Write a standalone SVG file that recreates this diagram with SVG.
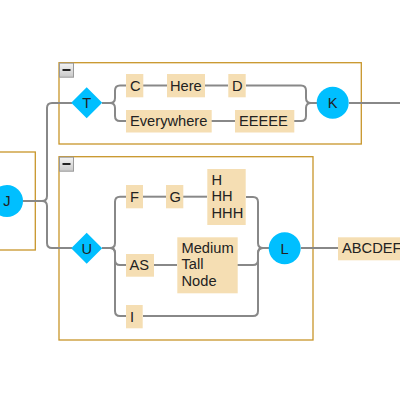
<svg xmlns="http://www.w3.org/2000/svg" width="400" height="400" viewBox="0 0 400 400">
<defs>
<linearGradient id="btn" x1="0" y1="0" x2="0" y2="1">
<stop offset="0" stop-color="#f4f4f4"/>
<stop offset="1" stop-color="#c8c8c8"/>
</linearGradient>
</defs>
<style>
.grp{fill:none;stroke:#c8962a;stroke-width:1.3}
.btn{fill:url(#btn);stroke:#9a9a9a;stroke-width:1}
.minus{stroke:#222;stroke-width:2}
.box{fill:#f5deb3}
.shape{fill:#00bfff}
.edge{fill:none;stroke:#888;stroke-width:2}
text{font-family:"Liberation Sans",Arial,sans-serif;font-size:14.67px;fill:#222}
.c{text-anchor:middle}
</style>
<rect width="400" height="400" fill="#fff"/>
<g id="groups">
<rect class="grp" x="-10" y="152" width="45.3" height="98"/>
<rect class="grp" x="59" y="62.7" width="302.3" height="81.3"/>
<rect class="grp" x="59" y="156.7" width="254" height="183.3"/>
<rect class="btn" x="59.5" y="63.2" width="14" height="14"/>
<line class="minus" x1="62.5" y1="70" x2="70.5" y2="70"/>
<rect class="btn" x="59.5" y="157.2" width="14" height="14"/>
<line class="minus" x1="62.5" y1="164" x2="70.5" y2="164"/>
</g>
<g id="connectors">
<path class="edge" d="M23,201 H42 Q47,201 47,196 V108 Q47,103 52,103 H72"/>
<path class="edge" d="M23,201 H42 Q47,201 47,206 V243 Q47,248 52,248 H72"/>
<path class="edge" d="M102,103 H110 Q115,103 115,98 V90.5 Q115,85.5 120,85.5 H126"/>
<path class="edge" d="M102,103 H110 Q115,103 115,108 V116 Q115,121 120,121 H126"/>
<path class="edge" d="M143,85.5 H167"/>
<path class="edge" d="M205,85.5 H228"/>
<path class="edge" d="M246,85.5 H301 Q306,85.5 306,90.5 V98 Q306,103 311,103 H317"/>
<path class="edge" d="M211,121 H235"/>
<path class="edge" d="M294,121 H301 Q306,121 306,116 V108 Q306,103 311,103 H317"/>
<path class="edge" d="M349,103 H400"/>
<path class="edge" d="M102,248 H110 Q115,248 115,243 V201.7 Q115,196.7 120,196.7 H126"/>
<path class="edge" d="M102,248 H110 Q115,248 115,253 V260 Q115,265 120,265 H126"/>
<path class="edge" d="M102,248 H110 Q115,248 115,253 V311 Q115,316 120,316 H126"/>
<path class="edge" d="M143,196.7 H166"/>
<path class="edge" d="M183,196.7 H207"/>
<path class="edge" d="M246,197 H253 Q258,197 258,202 V243 Q258,248 263,248 H269"/>
<path class="edge" d="M154,265 H177"/>
<path class="edge" d="M237,265 H253 Q258,265 258,260 V253 Q258,248 263,248 H269"/>
<path class="edge" d="M143,316 H253 Q258,316 258,311 V253 Q258,248 263,248 H269"/>
<path class="edge" d="M301,248 H338"/>
</g>
<g id="J"><circle class="shape" cx="7" cy="201" r="16"/><text class="c" x="7" y="206.3">J</text></g>
<g id="T"><polygon class="shape" points="86.7,87.2 102.2,102.7 86.7,118.2 71.2,102.7"/><text class="c" x="86.7" y="108">T</text></g>
<g id="U"><polygon class="shape" points="86.7,232.8 102.2,248.3 86.7,263.8 71.2,248.3"/><text class="c" x="86.7" y="253.6">U</text></g>
<g id="K"><circle class="shape" cx="332.7" cy="102.7" r="16"/><text class="c" x="332.7" y="108">K</text></g>
<g id="L"><circle class="shape" cx="284.7" cy="248.3" r="16"/><text class="c" x="284.7" y="253.6">L</text></g>
<g id="C"><rect class="box" x="126" y="74" width="17.3" height="23.3"/><text x="130" y="90.5">C</text></g>
<g id="Here"><rect class="box" x="167" y="74" width="38" height="23.3"/><text x="170" y="90.5">Here</text></g>
<g id="D"><rect class="box" x="228.3" y="74" width="17.4" height="23.3"/><text x="232" y="90.5">D</text></g>
<g id="Everywhere"><rect class="box" x="126" y="110" width="85.7" height="22.5"/><text x="130" y="126">Everywhere</text></g>
<g id="EEEEE"><rect class="box" x="235" y="110" width="59.3" height="22.5"/><text x="239" y="126">EEEEE</text></g>
<g id="F"><rect class="box" x="126" y="185" width="17" height="23.3"/><text x="130" y="201.7">F</text></g>
<g id="G"><rect class="box" x="166" y="185" width="17.3" height="23.3"/><text x="169.5" y="201.7">G</text></g>
<g id="H"><rect class="box" x="207.3" y="169" width="38.4" height="56"/><text x="211.5" y="184.5">H</text><text x="211.5" y="201">HH</text><text x="211.5" y="217.5">HHH</text></g>
<g id="AS"><rect class="box" x="126" y="254" width="28" height="22.7"/><text x="129.5" y="270.3">AS</text></g>
<g id="Medium"><rect class="box" x="177.3" y="237.3" width="60.4" height="56"/><text x="181.5" y="252.7">Medium</text><text x="181.5" y="269.3">Tall</text><text x="181.5" y="285.7">Node</text></g>
<g id="I"><rect class="box" x="126" y="305" width="16.7" height="23.3"/><text x="130" y="321.5">I</text></g>
<g id="ABCDEF"><rect class="box" x="338" y="237.3" width="70" height="23"/><text x="342" y="253.2">ABCDEF</text></g>
</svg>
